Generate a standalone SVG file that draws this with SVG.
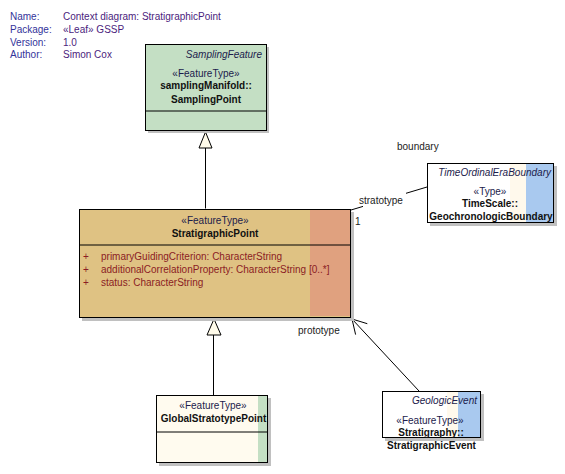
<svg xmlns="http://www.w3.org/2000/svg" width="565" height="474" viewBox="0 0 565 474">
<defs>
<style>
text{font-family:"Liberation Sans",Arial,sans-serif;font-size:10px;fill:#111}
.hl{fill:#33339a}
.hv{fill:#4b1d7d}
.st{fill:#1c1c4c}
.it{font-style:italic;fill:#1c1c4c}
.b{font-weight:bold}
.at{fill:#8b1c24}
.lbl{fill:#222}
.sh{fill:#c0c0c0}
.bx{fill:none;stroke:#000;stroke-width:1}
.ln{stroke:#000;stroke-width:1;fill:none}
.tri{fill:#fffbea;stroke:#000;stroke-width:1}
</style>
</defs>
<rect width="565" height="474" fill="#fff"/>

<g id="header">
<text class="hl" x="10" y="20">Name:</text><text class="hv" x="63" y="20">Context diagram: StratigraphicPoint</text>
<text class="hl" x="10" y="33">Package:</text><text class="hv" x="63" y="33">«Leaf» GSSP</text>
<text class="hl" x="10" y="45.5">Version:</text><text class="hv" x="63" y="45.5">1.0</text>
<text class="hl" x="10" y="58">Author:</text><text class="hv" x="63" y="58">Simon Cox</text>
</g>

<g id="connectors">
<line class="ln" x1="205.5" y1="148" x2="205.5" y2="208.5"/>
<polygon class="tri" points="205.5,132 199,148 212,148"/>
<line class="ln" x1="213.5" y1="335" x2="213.5" y2="395"/>
<polygon class="tri" points="214,319 207,335 221,335"/>
<line class="ln" x1="351" y1="210" x2="363" y2="206.4"/>
<line class="ln" x1="406" y1="193.3" x2="427" y2="187"/>
<line class="ln" x1="419" y1="391" x2="352" y2="319"/>
<path class="ln" d="M367.3,323.7 L352,319 L355.6,334.6"/>
<text class="lbl" x="397" y="150">boundary</text>
<text class="lbl" x="359" y="203.5">stratotype</text>
<text class="lbl" x="355" y="225">1</text>
<text class="lbl" x="298" y="334">prototype</text>
</g>

<g id="SamplingPoint">
<rect class="sh" x="148" y="47" width="121" height="86"/>
<rect x="145" y="44" width="121" height="86" fill="#c4dfc4"/>
<rect class="bx" x="145.5" y="44.5" width="121" height="86"/>
<line class="ln" x1="145.5" y1="111" x2="266.5" y2="111"/>
<text class="it" x="262" y="57.5" text-anchor="end">SamplingFeature</text>
<text class="st" x="206" y="76.5" text-anchor="middle">«FeatureType»</text>
<text class="b" x="206" y="89" text-anchor="middle">samplingManifold::</text>
<text class="b" x="206" y="102.5" text-anchor="middle">SamplingPoint</text>
</g>

<g id="StratigraphicPoint">
<rect class="sh" x="82" y="212" width="272" height="109"/>
<rect x="79" y="209" width="272" height="109" fill="#dfc283"/>
<rect x="310" y="210" width="40" height="106" fill="#e0a17f"/>
<rect class="bx" x="79.5" y="209.5" width="271" height="108"/>
<line class="ln" x1="79.5" y1="245" x2="350.5" y2="245"/>
<text class="st" x="215" y="224" text-anchor="middle">«FeatureType»</text>
<text class="b" x="215" y="237" text-anchor="middle">StratigraphicPoint</text>
<text class="at" x="83" y="259.5">+</text><text class="at" x="101" y="259.5">primaryGuidingCriterion:  CharacterString</text>
<text class="at" x="83" y="272.5">+</text><text class="at" x="101" y="272.5">additionalCorrelationProperty:  CharacterString [0..*]</text>
<text class="at" x="83" y="285.5">+</text><text class="at" x="101" y="285.5">status:  CharacterString</text>
</g>

<g id="GeochronologicBoundary">
<rect class="sh" x="430" y="166" width="127" height="60"/>
<rect x="427" y="163" width="127" height="60" fill="#fff"/>
<rect x="510" y="164" width="16" height="58" fill="#fff9ec"/>
<rect x="526" y="164" width="27" height="58" fill="#a9c9ef"/>
<rect class="bx" x="427.5" y="163.5" width="126" height="59"/>
<text class="it" x="551" y="175.5" text-anchor="end">TimeOrdinalEraBoundary</text>
<text class="st" x="490" y="195" text-anchor="middle">«Type»</text>
<text class="b" x="490" y="207" text-anchor="middle">TimeScale::</text>
<text class="b" x="491" y="220" text-anchor="middle">GeochronologicBoundary</text>
</g>

<g id="GlobalStratotypePoint">
<rect class="sh" x="159" y="398" width="112" height="68"/>
<rect x="156" y="395" width="112" height="68" fill="#fffbef"/>
<rect x="258" y="396" width="10" height="66" fill="#c4dfc4"/>
<rect class="bx" x="156.5" y="395.5" width="111" height="67"/>
<line class="ln" x1="156.5" y1="432" x2="267.5" y2="432"/>
<text class="st" x="213" y="409" text-anchor="middle">«FeatureType»</text>
<text class="b" x="213.5" y="422" text-anchor="middle">GlobalStratotypePoint</text>
</g>

<g id="StratigraphicEvent">
<rect class="sh" x="385" y="394" width="99" height="47"/>
<rect x="382" y="391" width="99" height="47" fill="#fff"/>
<rect x="447" y="392" width="11" height="45" fill="#fff9ec"/>
<rect x="458" y="392" width="22" height="45" fill="#a9c9ef"/>
<rect class="bx" x="382.5" y="391.5" width="98" height="46"/>
<text class="it" x="477" y="404" text-anchor="end">GeologicEvent</text>
<text class="st" x="430" y="423.5" text-anchor="middle">«FeatureType»</text>
<text class="b" x="431" y="436" text-anchor="middle">Stratigraphy::</text>
<text class="b" x="431.5" y="449" text-anchor="middle">StratigraphicEvent</text>
</g>
</svg>
